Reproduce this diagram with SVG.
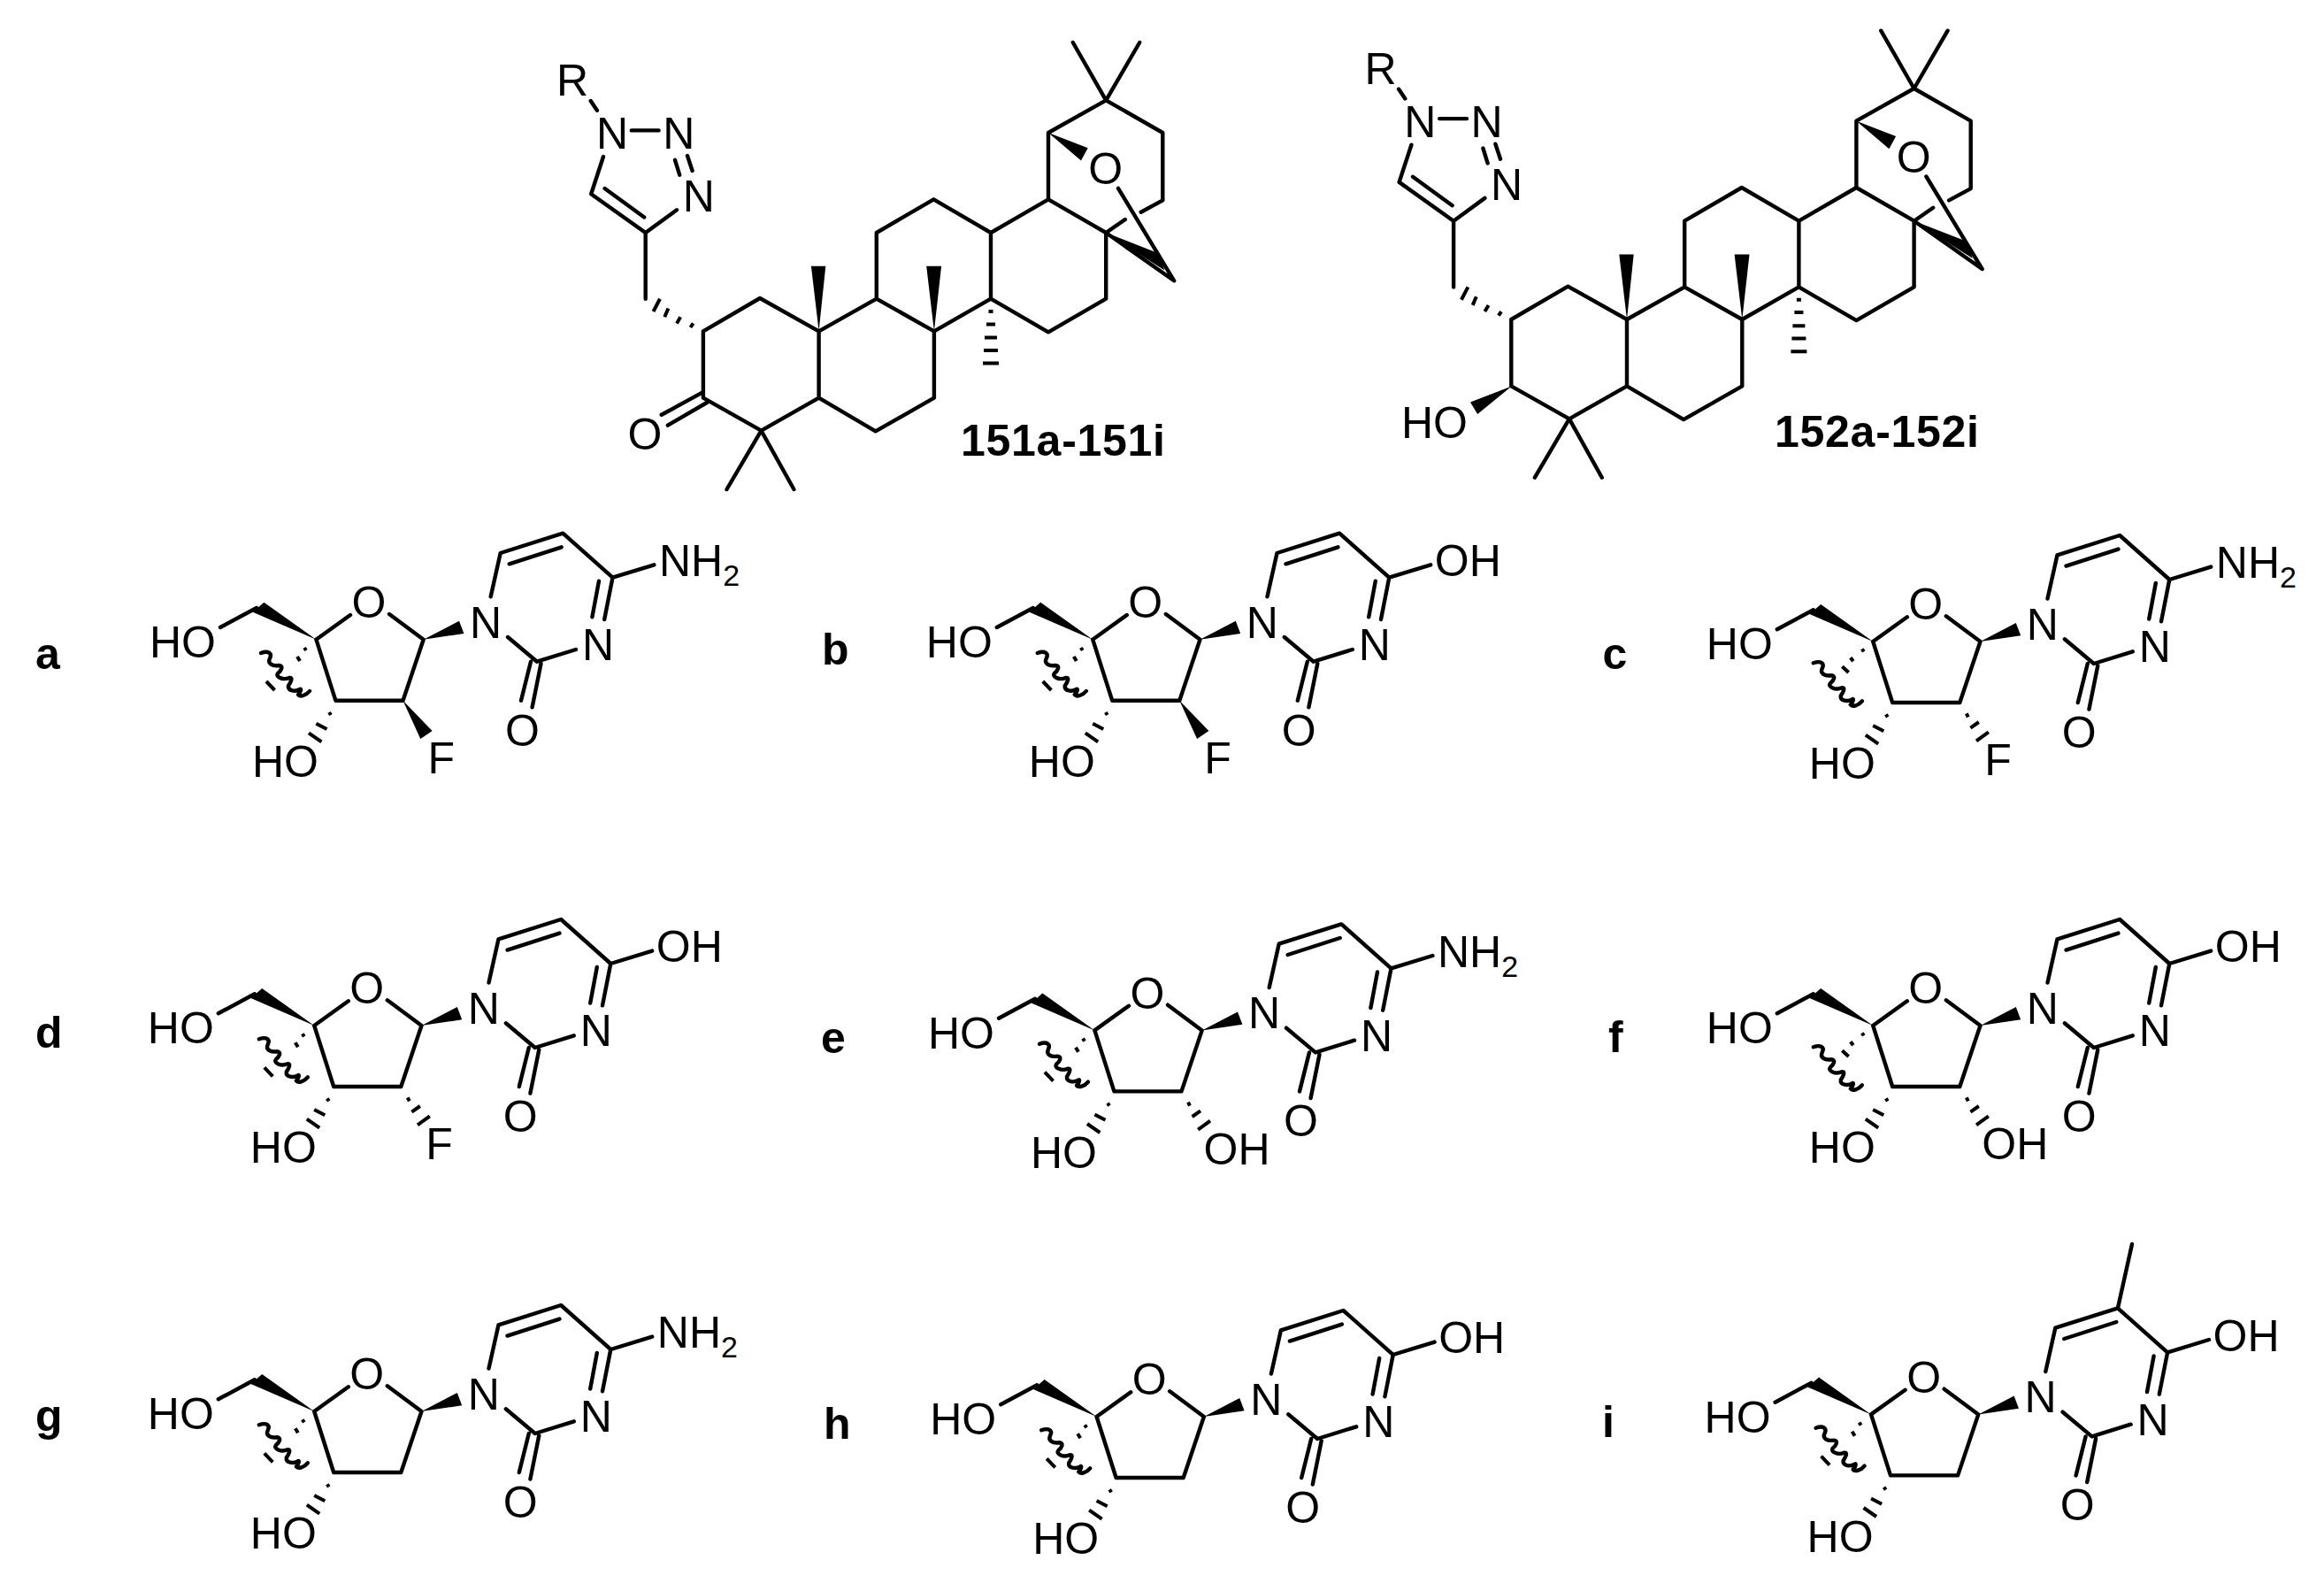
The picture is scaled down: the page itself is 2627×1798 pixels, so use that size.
<svg xmlns="http://www.w3.org/2000/svg" width="2627" height="1798" viewBox="0 0 2627 1798">
<style>
text{font-family:"Liberation Sans",Arial,sans-serif;font-size:50px;fill:#000}
.m{text-anchor:middle}
.t{font-weight:bold}
.s{font-size:34px}
.b{fill:none;stroke:#000;stroke-width:4.4;stroke-linejoin:round;stroke-linecap:round}
.h{fill:none;stroke:#000;stroke-width:4;stroke-linecap:butt}
.w{fill:#000;stroke:none}
</style>
<defs>
<g id="terp">
<path class="b" d="M794.9 374.3L859 337L925.6 374.3V449.7L860.5 486.7L794.9 449.7ZM925.6 374.3L990.8 337.7L1055.9 374.3V449.7L989.7 487.4L925.6 449.7M990.8 337.7V263L1055.4 225.3L1120 263V337.7L1055.9 374.3M1120 263L1185 225.3L1250.2 263V337.7L1185 375.4L1120 337.7M1185 225.3V150L1250.2 113.3L1314.3 150V226.4L1289.7 239.7M1271.8 248L1250.2 263M1212.8 48L1250.2 113.3L1288.2 48M1264 212.8L1327.2 317.3L1250.2 263M821.5 553L860.5 486.7L897.4 553M729.7 337.7V263L668.2 219.2L682 177M683.6 213L728.2 245.5M729.7 263L765 237.2M713.8 147.4H744.6M777 176L782.6 193M763 180.8L768.2 197.7M667.7 114L674.9 124.8"/>
<path class="w" d="M1185 150L1229.7 167.2L1222 181.6ZM1250.2 263L1310.2 286.4L1316.4 305.4ZM925.6 374.3L916.9 300.7H933.3ZM1055.9 374.3L1047.2 300.7H1064.1Z"/>
<path class="h" d="M1117.5 352H1122.5M1115 366.4H1125M1113 381.5H1127M1112 395.9H1128M1111 410.6H1129M783.6 365.4L780.5 370M769.2 358.2L765 365.4M755.4 348.5L751.3 358.2M746 337.7L738.5 352"/>
</g>
<path id="wave" class="b" d="M295 738C303 735 308 738 305 744C302 750 308 753 315 752C321 752 318 758 314 761C311 765 320 769 327 766C332 765 328 772 326 775C325 781 334 782 339 779C341 777 340 783 337 785C339 788 346 786 350 781"/>
<g id="sugar">
<path class="b" d="M290 687L249 709M357.4 722.7L396 695M440 694L478.7 722.7L455.5 791.7H379.4L357.4 722.7"/>
<path class="w" d="M357.4 722.7L298.4 680.7L285.7 691.7ZM478.7 722.7L519 701.7L524.4 716Z"/>
<path class="h" d="M372 805L374 808M357.4 817.7L369.5 824M349 828.3L363.4 838.3"/>
</g>
<g id="me1"><use href="#wave"/><path class="h" d="M344 732L346 735M336 742L339 747M301 770L310.5 780"/></g>
<g id="me2"><use href="#wave" transform="translate(-5 9)"/><path class="h" d="M345 731L347 734M332 741L335 745M322.6 751L329.8 757.7"/></g>
<path id="fup" class="w" d="M455.5 791.7L488.6 826L475.3 835Z"/>
<path id="c2hash" class="h" d="M463 804L465 808M467.6 820.3L477 813.7M474.2 835L488 825"/>
<g id="base">
<path class="b" d="M554.7 674.3L565.7 625L636.3 602.7L692.5 652.7L739.4 638.3M575.7 637.3L634.7 618.3M692.5 652.7L683.2 700M677 656.7L669.4 697.3M651 734L607 747.7L574 720M600 747.7L589 791.7M611.5 750L601.6 799.3"/>
</g>
</defs>
<rect width="2627" height="1798" fill="#fff"/>

<g id="cpd-151">
<use href="#terp"/>
<path class="b" d="M793.8 443.6L747.7 468.8M799 455L754.9 480.6"/>
<text x="629" y="108">R</text><text class="m" x="692" y="168">N</text><text class="m" x="767.2" y="168">N</text><text class="m" x="789.7" y="239">N</text>
<text class="m" x="1249.7" y="208">O</text><text class="m" x="729" y="508">O</text>
<text class="t" x="1086" y="514.7" textLength="231">151a-151i</text>
</g>
<g id="cpd-152">
<g transform="translate(913.4 -13.3)">
<use href="#terp"/>
<text x="629" y="108">R</text><text class="m" x="692" y="168">N</text><text class="m" x="767.2" y="168">N</text><text class="m" x="789.7" y="239">N</text>
<text class="m" x="1249.7" y="208">O</text>
</g>
<path class="w" d="M1708.7 436.4L1662 454.4L1670.2 468Z"/>
<text x="1584" y="494.6">HO</text>
<text class="t" x="2006" y="504.6" textLength="231">152a-152i</text>
</g>

<g id="cpd-a">
<text class="t" x="40" y="755.7">a</text>
<use href="#sugar"/><use href="#me1"/><use href="#fup"/><use href="#base"/>
<text class="m" x="417" y="698">O</text><text x="169" y="743">HO</text><text x="285" y="878">HO</text><text x="483.5" y="874">F</text>
<text class="m" x="549" y="720.5">N</text><text class="m" x="676" y="746">N</text><text class="m" x="590.5" y="842.5">O</text>
<text x="745" y="651">NH<tspan class="s" dy="11">2</tspan></text>
</g>
<g id="cpd-b">
<text class="t" x="929" y="750.7">b</text>
<g transform="translate(877.8 0)">
<use href="#sugar"/><use href="#me1"/><use href="#fup"/><use href="#base"/>
<text class="m" x="417" y="698">O</text><text x="169" y="743">HO</text><text x="285" y="878">HO</text><text x="483.5" y="874">F</text>
<text class="m" x="549" y="720.5">N</text><text class="m" x="676" y="746">N</text><text class="m" x="590.5" y="842.5">O</text>
<text x="744" y="651">OH</text>
</g></g>
<g id="cpd-c">
<text class="t" x="1811.5" y="755.7">c</text>
<g transform="translate(1759.8 2.3)">
<use href="#sugar"/><use href="#me2"/><use href="#c2hash"/><use href="#base"/>
<text class="m" x="417" y="698">O</text><text x="169" y="743">HO</text><text x="285" y="878">HO</text><text x="483.5" y="874">F</text>
<text class="m" x="549" y="720.5">N</text><text class="m" x="676" y="746">N</text><text class="m" x="590.5" y="842.5">O</text>
<text x="745" y="651">NH<tspan class="s" dy="11">2</tspan></text>
</g></g>
<g id="cpd-d">
<text class="t" x="40" y="1184">d</text>
<g transform="translate(-2.2 436.3)">
<use href="#sugar"/><use href="#me1"/><use href="#c2hash"/><use href="#base"/>
<text class="m" x="417" y="698">O</text><text x="169" y="743">HO</text><text x="285" y="878">HO</text><text x="483.5" y="874">F</text>
<text class="m" x="549" y="720.5">N</text><text class="m" x="676" y="746">N</text><text class="m" x="590.5" y="842.5">O</text>
<text x="744" y="651">OH</text>
</g></g>
<g id="cpd-e">
<text class="t" x="928" y="1190">e</text>
<g transform="translate(880 441.7)">
<use href="#sugar"/><use href="#me1"/><use href="#c2hash"/><use href="#base"/>
<text class="m" x="417" y="698">O</text><text x="169" y="743">HO</text><text x="285" y="878">HO</text><text x="480.5" y="874">OH</text>
<text class="m" x="549" y="720.5">N</text><text class="m" x="676" y="746">N</text><text class="m" x="590.5" y="842.5">O</text>
<text x="745" y="651">NH<tspan class="s" dy="11">2</tspan></text>
</g></g>
<g id="cpd-f">
<text class="t" x="1818" y="1189">f</text>
<g transform="translate(1759.8 436.3)">
<use href="#sugar"/><use href="#me2"/><use href="#c2hash"/><use href="#base"/>
<text class="m" x="417" y="698">O</text><text x="169" y="743">HO</text><text x="285" y="878">HO</text><text x="480.5" y="874">OH</text>
<text class="m" x="549" y="720.5">N</text><text class="m" x="676" y="746">N</text><text class="m" x="590.5" y="842.5">O</text>
<text x="744" y="651">OH</text>
</g></g>
<g id="cpd-g">
<text class="t" x="40" y="1617">g</text>
<g transform="translate(-2.2 872.3)">
<use href="#sugar"/><use href="#me1"/><use href="#base"/>
<text class="m" x="417" y="698">O</text><text x="169" y="743">HO</text><text x="285" y="878">HO</text>
<text class="m" x="549" y="720.5">N</text><text class="m" x="676" y="746">N</text><text class="m" x="590.5" y="842.5">O</text>
<text x="745" y="651">NH<tspan class="s" dy="11">2</tspan></text>
</g></g>
<g id="cpd-h">
<text class="t" x="931" y="1626">h</text>
<g transform="translate(882.2 878.3)">
<use href="#sugar"/><use href="#me1"/><use href="#base"/>
<text class="m" x="417" y="698">O</text><text x="169" y="743">HO</text><text x="285" y="878">HO</text>
<text class="m" x="549" y="720.5">N</text><text class="m" x="676" y="746">N</text><text class="m" x="590.5" y="842.5">O</text>
<text x="744" y="651">OH</text>
</g></g>
<g id="cpd-i">
<text class="t" x="1811" y="1624">i</text>
<g transform="translate(1757.6 875.7)">
<use href="#sugar"/><use href="#me1"/><use href="#base"/>
<path class="b" d="M636.3 602.7L652.4 530.3"/>
<text class="m" x="417" y="698">O</text><text x="169" y="743">HO</text><text x="285" y="878">HO</text>
<text class="m" x="549" y="720.5">N</text><text class="m" x="676" y="746">N</text><text class="m" x="590.5" y="842.5">O</text>
<text x="744" y="651">OH</text>
</g></g>
</svg>
